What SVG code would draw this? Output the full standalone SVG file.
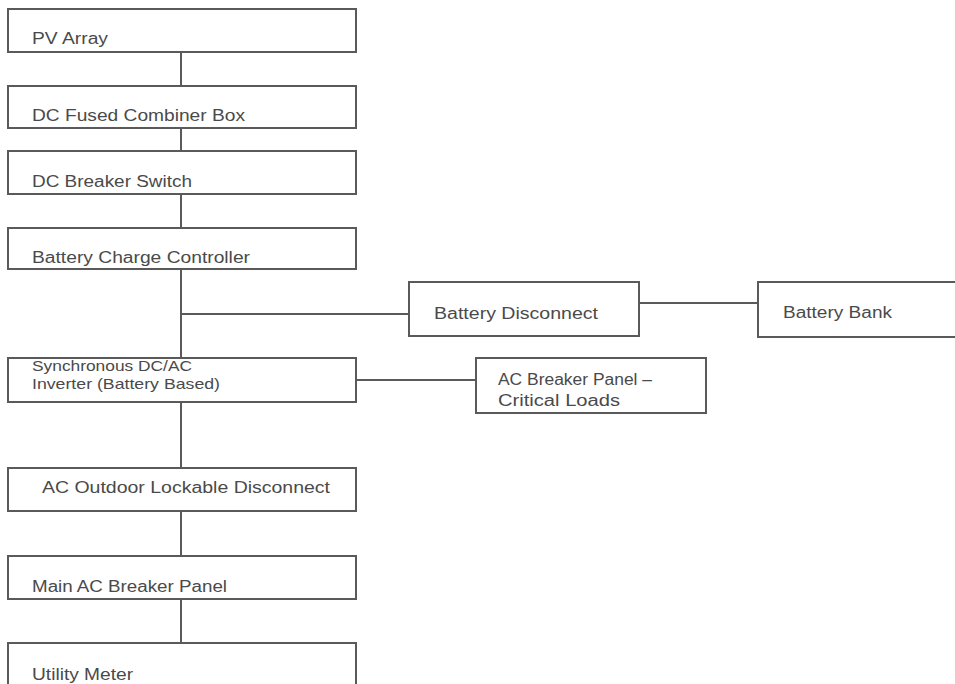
<svg xmlns="http://www.w3.org/2000/svg" width="955" height="684" viewBox="0 0 955 684">
<style>
.box{fill:#fff;stroke:#5a5a5a;stroke-width:2}
.ln{stroke:#5a5a5a;stroke-width:2;fill:none}
text{font-family:"Liberation Sans",Arial,sans-serif;font-size:16px;fill:#4a4a4a}
.sm{font-size:15px}
</style>
<rect width="955" height="684" fill="#fff"/>
<g id="connectors">
<line class="ln" x1="181" y1="52" x2="181" y2="86"/>
<line class="ln" x1="181" y1="128" x2="181" y2="151"/>
<line class="ln" x1="181" y1="194" x2="181" y2="228"/>
<line class="ln" x1="181" y1="269" x2="181" y2="358"/>
<line class="ln" x1="181" y1="314" x2="409" y2="314"/>
<line class="ln" x1="639" y1="303" x2="758" y2="303"/>
<line class="ln" x1="356" y1="380" x2="476" y2="380"/>
<line class="ln" x1="181" y1="402" x2="181" y2="468"/>
<line class="ln" x1="181" y1="511" x2="181" y2="556"/>
<line class="ln" x1="181" y1="599" x2="181" y2="643"/>
</g>
<g id="pv-array"><rect class="box" x="8" y="9" width="348" height="43"/><text x="32" y="44" textLength="76" lengthAdjust="spacingAndGlyphs">PV Array</text></g>
<g id="dc-fused-combiner"><rect class="box" x="8" y="86" width="348" height="42"/><text x="32" y="121" textLength="213" lengthAdjust="spacingAndGlyphs">DC Fused Combiner Box</text></g>
<g id="dc-breaker-switch"><rect class="box" x="8" y="151" width="348" height="43"/><text x="32" y="187" textLength="160" lengthAdjust="spacingAndGlyphs">DC Breaker Switch</text></g>
<g id="battery-charge-controller"><rect class="box" x="8" y="228" width="348" height="41"/><text x="32" y="263" textLength="218" lengthAdjust="spacingAndGlyphs">Battery Charge Controller</text></g>
<g id="battery-disconnect"><rect class="box" x="409" y="282" width="230" height="54"/><text x="434" y="319" textLength="164" lengthAdjust="spacingAndGlyphs">Battery Disconnect</text></g>
<g id="battery-bank"><rect class="box" x="758" y="282" width="200" height="55"/><text x="783" y="318" textLength="109" lengthAdjust="spacingAndGlyphs">Battery Bank</text></g>
<g id="inverter"><rect class="box" x="8" y="358" width="348" height="44"/><text class="sm" x="32" y="371" textLength="160" lengthAdjust="spacingAndGlyphs">Synchronous DC/AC</text><text class="sm" x="32" y="389" textLength="188" lengthAdjust="spacingAndGlyphs">Inverter (Battery Based)</text></g>
<g id="ac-breaker-critical"><rect class="box" x="476" y="358" width="230" height="55"/><text x="498" y="385" textLength="154" lengthAdjust="spacingAndGlyphs">AC Breaker Panel –</text><text x="498" y="406" textLength="122" lengthAdjust="spacingAndGlyphs">Critical Loads</text></g>
<g id="ac-outdoor-disconnect"><rect class="box" x="8" y="468" width="348" height="43"/><text x="42" y="493" textLength="288" lengthAdjust="spacingAndGlyphs">AC Outdoor Lockable Disconnect</text></g>
<g id="main-ac-breaker"><rect class="box" x="8" y="556" width="348" height="43"/><text x="32" y="592" textLength="195" lengthAdjust="spacingAndGlyphs">Main AC Breaker Panel</text></g>
<g id="utility-meter"><rect class="box" x="8" y="643" width="348" height="50"/><text x="32" y="680" textLength="101" lengthAdjust="spacingAndGlyphs">Utility Meter</text></g>
</svg>
